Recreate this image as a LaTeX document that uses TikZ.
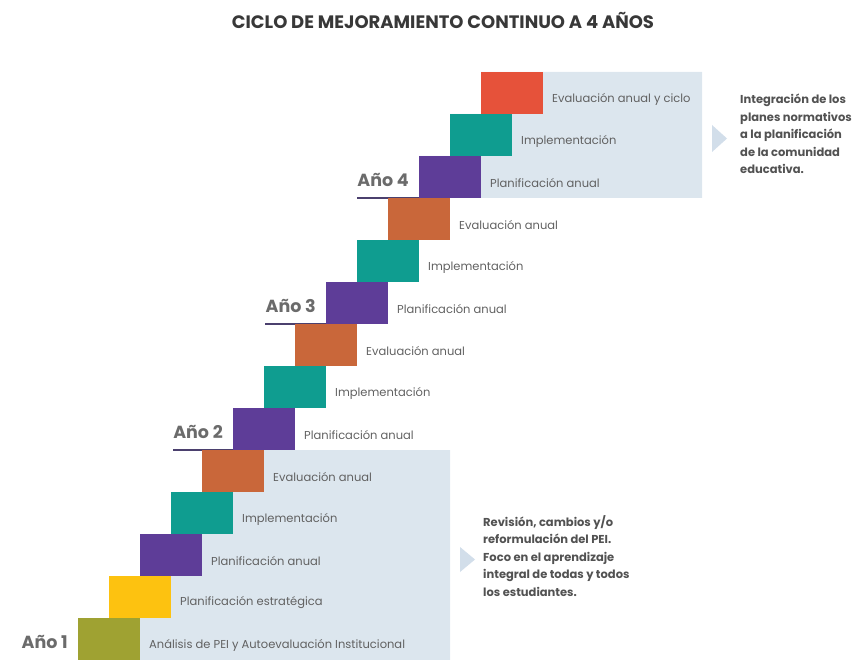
\documentclass[tikz,border=0pt]{standalone}
\usepackage{fontspec}
\setmainfont{Poppins}
\usetikzlibrary{positioning,backgrounds}

\definecolor{olivestep}{HTML}{9FA232}
\definecolor{yellowstep}{HTML}{FDC210}
\definecolor{purplestep}{HTML}{5E3D98}
\definecolor{tealstep}{HTML}{0F9D90}
\definecolor{orangestep}{HTML}{C9673A}
\definecolor{redstep}{HTML}{E6523A}
\definecolor{panelblue}{HTML}{DCE6EE}
\definecolor{triblue}{HTML}{D2DEEA}
\definecolor{yearline}{HTML}{4B406E}

\begin{document}
\begin{tikzpicture}[
  x=1pt, y=-1pt,
  font=\fontsize{11.5}{13}\selectfont,
  stepbox/.style={rectangle, inner sep=0pt, outer sep=0pt, minimum width=62pt, minimum height=42pt},
  up/.style={stepbox, above=0pt of #1, xshift=31pt},
  lbl/.style={inner sep=0pt, text=black!62, right=9pt of #1, yshift=-6pt},
  year/.style={inner sep=0pt, text=black!58, font=\fontsize{17.5}{20}\selectfont\bfseries, left=10pt of #1, yshift=-3pt},
  note/.style={inner sep=0pt, align=left, text=black!68, font=\fontsize{11.5}{17.5}\selectfont\bfseries, anchor=west},
  panel/.style={fill=panelblue},
  tri/.style={fill=triblue},
  uline/.style={draw=yearline, line width=1.6pt},
]
\useasboundingbox (0,0) rectangle (856,660);

% ---- title -------------------------------------------------------------------
\node[font=\fontsize{18}{20}\selectfont\bfseries, text=black!78] (title) at (443,20) {CICLO DE MEJORAMIENTO CONTINUO A 4 AÑOS};

% ---- staircase, from Año 1 up to the end of the cycle ------------------------
\node[stepbox, fill=olivestep, anchor=south west] (s0) at (78,660) {};
\node[up=s0, fill=yellowstep]  (s1)  {};
\node[up=s1, fill=purplestep]  (s2)  {};
\node[up=s2, fill=tealstep]    (s3)  {};
\node[up=s3, fill=orangestep]  (s4)  {};
\node[up=s4, fill=purplestep]  (s5)  {};
\node[up=s5, fill=tealstep]    (s6)  {};
\node[up=s6, fill=orangestep]  (s7)  {};
\node[up=s7, fill=purplestep]  (s8)  {};
\node[up=s8, fill=tealstep]    (s9)  {};
\node[up=s9, fill=orangestep]  (s10) {};
\node[up=s10, fill=purplestep] (s11) {};
\node[up=s11, fill=tealstep]   (s12) {};
\node[up=s12, fill=redstep]    (s13) {};

% ---- step labels -------------------------------------------------------------
\node[lbl=s0]  (l0)  {Análisis de PEI y Autoevaluación Institucional};
\node[lbl=s1]  (l1)  {Planificación estratégica};
\node[lbl=s2]  (l2)  {Planificación anual};
\node[lbl=s3]  (l3)  {Implementación};
\node[lbl=s4]  (l4)  {Evaluación anual};
\node[lbl=s5]  (l5)  {Planificación anual};
\node[lbl=s6]  (l6)  {Implementación};
\node[lbl=s7]  (l7)  {Evaluación anual};
\node[lbl=s8]  (l8)  {Planificación anual};
\node[lbl=s9]  (l9)  {Implementación};
\node[lbl=s10] (l10) {Evaluación anual};
\node[lbl=s11] (l11) {Planificación anual};
\node[lbl=s12] (l12) {Implementación};
\node[lbl=s13] (l13) {Evaluación anual y ciclo};

% ---- years -------------------------------------------------------------------
\node[year=s0]  (y1) {Año 1};
\node[year=s5]  (y2) {Año 2};
\node[year=s8]  (y3) {Año 3};
\node[year=s11] (y4) {Año 4};

% ---- notes on the right --------------------------------------------------------
\coordinate (edge1) at (450,0);
\coordinate (edge4) at (702,0);
\fill[tri] (460,547) -- (475,559.5) -- (460,572) -- cycle;
\node[note] (n1) at (483,556) {Revisión, cambios y/o\\reformulación del PEI.\\Foco en el aprendizaje\\integral de todas y todos\\los estudiantes.};
\fill[tri] (712,125) -- (727,138.5) -- (712,152) -- cycle;
\node[note] (n4) at (740,134) {Integración de los\\planes normativos\\a la planificación\\de la comunidad\\educativa.};

% ---- panels and year lines ---------------------------------------------------------
\begin{scope}[on background layer]
  \fill[panel] (s0.south west) -- (s0.north west) -- (s1.south west) -- (s1.north west)
    -- (s2.south west) -- (s2.north west) -- (s3.south west) -- (s3.north west)
    -- (s4.south west) -- (s4.north west) -- (s4.north west -| edge1) -- (s0.south west -| edge1) -- cycle;
  \fill[panel] (s11.south west) -- (s11.north west) -- (s12.south west) -- (s12.north west)
    -- (s13.south west) -- (s13.north west) -- (s13.north west -| edge4) -- (s11.south west -| edge4) -- cycle;
  \draw[uline] (y2.west |- s5.south) -- (s5.south west);
  \draw[uline] (y3.west |- s8.south) -- (s8.south west);
  \draw[uline] (y4.west |- s11.south) -- (s11.south west);
\end{scope}

\end{tikzpicture}
\end{document}
